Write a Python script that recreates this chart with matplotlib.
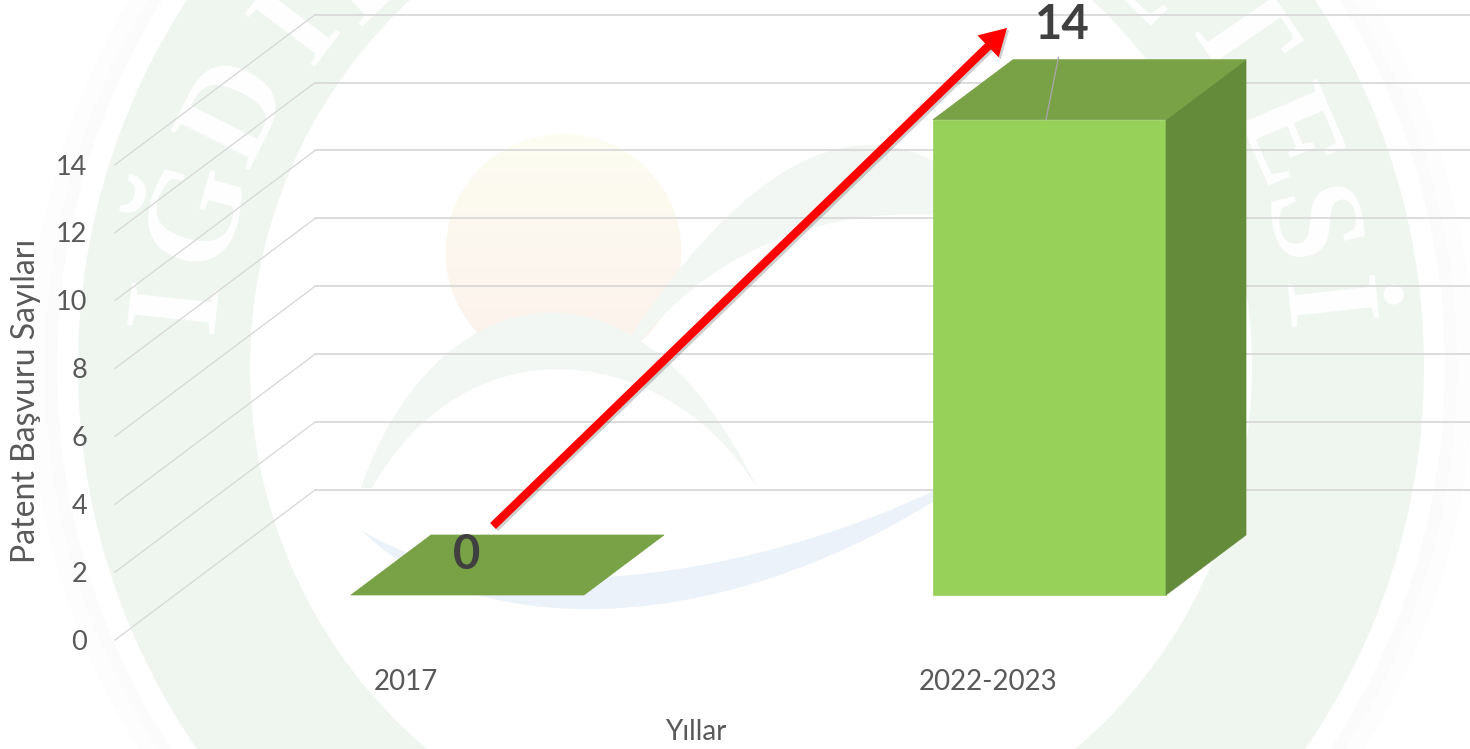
#!/usr/bin/env python3
"""Patent application counts, drawn as a 3D-looking bar chart over a university logo watermark."""

import math

import numpy as np
import matplotlib
matplotlib.use("Agg")
import matplotlib.pyplot as plt
import matplotlib.patheffects as pe
from matplotlib.colors import LinearSegmentedColormap
from matplotlib.patches import Annulus, Circle, FancyArrowPatch, PathPatch, Polygon
from matplotlib.path import Path

plt.rcParams["font.family"] = ["Lato", "DejaVu Sans"]

# Chart data
CATEGORIES = ["2017", "2022-2023"]
VALUES = [0, 14]
Y_TICKS = [0, 2, 4, 6, 8, 10, 12, 14]
X_LABEL = "Yıllar"
Y_LABEL = "Patent Başvuru Sayıları"

# Watermark text, letters around the ring
RING_LETTERS = ["I", "Ğ", "D", "I", "R", "E", "T", "E", "S", "İ"]
RING_X = [181, 200, 240, 300, 372, 1146, 1232, 1281, 1300, 1317]
RING_Y = [305, 212, 112, 27, -30, -22, 38, 140, 230, 305]

W, H = 1470, 749
PX_X0, PX_PER_CAT = 407.5, 582.0    # pixel position of first category, category spacing
PX_Y0, PX_PER_UNIT = 640.0, 33.95   # pixel position of value 0, pixels per unit
DEPTH_X = 200.0 / PX_PER_CAT        # chart floor depth, in data units
DEPTH_Y = 150.0 / PX_PER_UNIT
WALL_X = (115 - PX_X0) / PX_PER_CAT
BAR_W = 233.0 / PX_PER_CAT
BAR_D0, BAR_D1 = 0.3, 0.7

FRONT = "#97d15a"
TOP = "#79a146"
SIDE = "#648b3a"
GRID = "#d9d9d9"
TEXT = "#595959"
LABEL = "#404040"
RING = "#eff6f0"


def project(x, v, d):
    """Oblique projection of (category, value, depth) to 2D data coordinates."""
    return x + d * DEPTH_X, v + d * DEPTH_Y


def crescent(verts, color):
    codes = [Path.MOVETO, Path.CURVE4, Path.CURVE4, Path.CURVE4,
             Path.CURVE4, Path.CURVE4, Path.CURVE4, Path.CLOSEPOLY]
    return PathPatch(Path(verts + [verts[0]], codes), fc=color, ec="none")


fig = plt.figure(figsize=(W / 100, H / 100), dpi=100, facecolor="white")

# --- watermark, in pixel coordinates ---
bg = fig.add_axes([0, 0, 1, 1], zorder=0)
bg.axis("off")

bg.add_patch(Annulus((751, 367), 722, 16, fc="#fdfdfd", ec="none"))
bg.add_patch(Annulus((751, 367), 706, 12, fc="#fbfbfb", ec="none"))
bg.add_patch(Annulus((751, 367), 673, 172, fc=RING, ec="none"))

for ch, px, py in zip(RING_LETTERS, RING_X, RING_Y):
    rot = math.degrees(math.atan2(751 - px, 367 - py))
    bg.text(px, py, ch, color="white", family="Liberation Serif", fontsize=96,
            fontweight="bold", rotation=rot, rotation_mode="anchor",
            ha="center", va="center")

sun_cmap = LinearSegmentedColormap.from_list("sun", ["#fdfdf1", "#fcf1ec"])
sun = bg.imshow(np.linspace(0, 1, 64).reshape(-1, 1), cmap=sun_cmap, aspect="auto",
                extent=(446, 681, 367, 133), zorder=1)
sun.set_clip_path(Circle((563.5, 252), 118, transform=bg.transData))

left_hill = [(361, 488), (430, 285), (630, 225), (757, 488),
             (670, 345), (470, 315), (372, 488)]
right_hill = [(630, 338), (740, 170), (880, 60), (1010, 230),
              (950, 205), (760, 190), (638, 344)]
swoosh = [(361, 530), (480, 650), (760, 640), (1000, 455),
          (830, 560), (520, 630), (361, 530)]
for verts, col in [(left_hill, "#f2f7f3"), (right_hill, "#f2f7f3"), (swoosh, "#ebf2f9")]:
    patch = crescent(verts, col)
    patch.set_zorder(2)
    bg.add_patch(patch)

bg.set_xlim(0, W)
bg.set_ylim(H, 0)

# --- chart, in category / value coordinates ---
ax = fig.add_axes([0, 0, 1, 1], zorder=1)
ax.axis("off")
ax.set_xlim(-PX_X0 / PX_PER_CAT, (W - PX_X0) / PX_PER_CAT)
ax.set_ylim((PX_Y0 - H) / PX_PER_UNIT, PX_Y0 / PX_PER_UNIT)
x_right = ax.get_xlim()[1]

for tick in Y_TICKS:
    bx, by = project(WALL_X, tick, 1)
    ax.plot([WALL_X, bx], [tick, by], color=GRID, lw=1.0, zorder=1)
    ax.plot([bx, x_right], [by, by], color=GRID, lw=1.3, zorder=1)
    ax.annotate(str(tick), (WALL_X, tick), xytext=(-20, -1.7), textcoords="offset points",
                ha="right", va="center", fontsize=19.5, color=TEXT)

for i, (cat, val) in enumerate(zip(CATEGORIES, VALUES)):
    x0 = i - BAR_W / 2
    x1 = x0 + BAR_W
    faces = []
    if val > 0:
        faces.append(([project(x0, 0, BAR_D0), project(x1, 0, BAR_D0),
                       project(x1, val, BAR_D0), project(x0, val, BAR_D0)], FRONT))
        faces.append(([project(x1, 0, BAR_D0), project(x1, 0, BAR_D1),
                       project(x1, val, BAR_D1), project(x1, val, BAR_D0)], SIDE))
    faces.append(([project(x0, val, BAR_D0), project(x1, val, BAR_D0),
                   project(x1, val, BAR_D1), project(x0, val, BAR_D1)], TOP))
    for pts, col in faces:
        ax.add_patch(Polygon(pts, closed=True, fc=col, ec=col, lw=0.5, zorder=3))

    # category label sits below the wall front
    ax.annotate(cat, project(i, 0, 0), xytext=(-1, -30), textcoords="offset points",
                ha="center", va="center", fontsize=20, color=TEXT)

# value labels, the second one pulled off the bar with a leader line
fx, fy = project(0, VALUES[0], BAR_D0)
ax.annotate(str(VALUES[0]), (fx, fy), xytext=(-1, 28.5), textcoords="offset points",
            ha="center", va="center", fontsize=34, fontweight="bold", color=LABEL, zorder=5)
fx, fy = project(1, VALUES[1], BAR_D0)
ax.annotate(str(VALUES[1]), (fx, fy), xytext=(9, 68), textcoords="offset points",
            ha="center", va="center", fontsize=34, fontweight="bold", color=LABEL, zorder=5)
ax.annotate("", (fx - 3.5 / PX_PER_CAT, fy), xytext=(9, 45), textcoords="offset points",
            arrowprops=dict(arrowstyle="-", color="#a6a6a6", lw=1, shrinkA=0, shrinkB=0),
            zorder=5)

fig.text(696 / W, 1 - 732 / H, X_LABEL, ha="center", va="center", fontsize=20, color=TEXT)
fig.text(26 / W, 1 - 401 / H, Y_LABEL, ha="center", va="center", rotation=90,
         fontsize=23, color=TEXT)

# red trend arrow
arrow = FancyArrowPatch((493, 526), (1007, 28), transform=bg.transData,
                        arrowstyle="simple,head_length=19,head_width=22,tail_width=6",
                        mutation_scale=1, fc="#ff0000", ec="none", shrinkA=0, shrinkB=0,
                        zorder=6)
arrow.set_path_effects([pe.SimplePatchShadow(offset=(1.5, -1.5), alpha=0.25, shadow_rgbFace="#404040"),
                        pe.Normal()])
ax.add_patch(arrow)

fig.savefig("out.png", dpi=100, facecolor="white")
